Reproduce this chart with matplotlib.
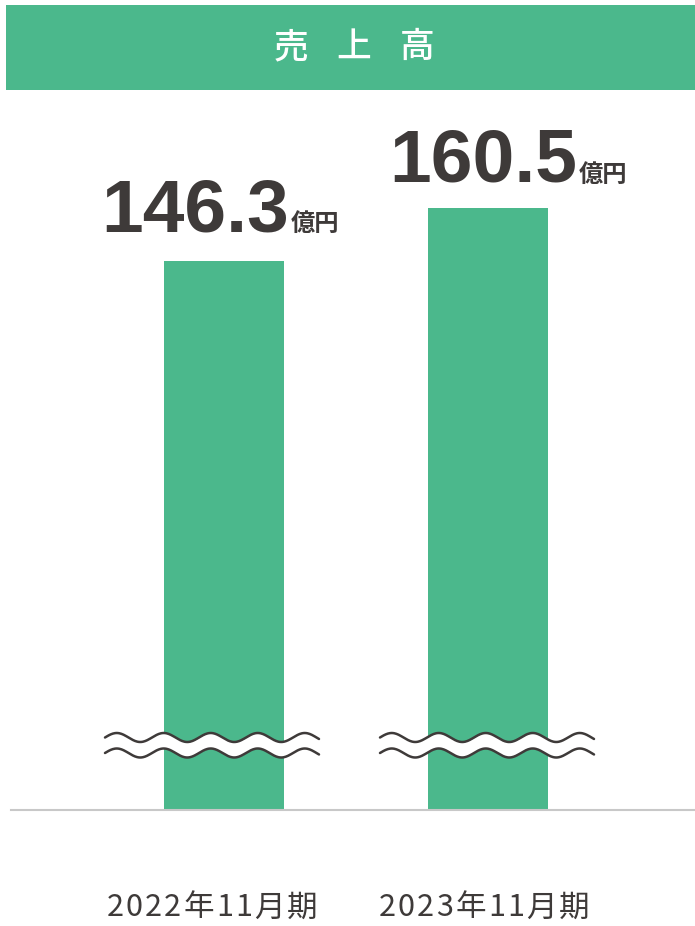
import numpy as np
import matplotlib
matplotlib.use("Agg")
import matplotlib.pyplot as plt
from matplotlib.patches import Rectangle

# data
periods = ["2022年11月期", "2023年11月期"]
sales = [146.3, 160.5]
value_labels = ["146.3", "160.5"]
unit = "億円"
title_chars = ["売", "上", "高"]

GREEN = "#4bb88c"
DARK = "#3e3a39"
CJK = ["Noto Sans CJK JP", "DejaVu Sans"]

W, H = 695, 926
fig = plt.figure(figsize=(W / 100, H / 100), dpi=100)
renderer = fig.canvas.get_renderer()

# bar area: baseline at y=810px, top at 90px, 3.752 px per unit
base_px, top_px = 810, 90
px_per_unit = 3.752
ax = fig.add_axes([0, (H - base_px) / H, 1, (base_px - top_px) / H])
ax.set_ylim(0, (base_px - top_px) / px_per_unit)
x0_px, step_px = 224, 264
ax.set_xlim(-x0_px / step_px, (W - x0_px) / step_px)
x = np.arange(len(sales))
ax.bar(x, sales, width=120 / step_px, color=GREEN, zorder=2)
ax.axhline(0, xmin=11 / W, xmax=1, color="#c8c8c8", lw=1.5, zorder=3, clip_on=False)
ax.axis("off")

# value labels: big number + small unit
label_dx = [65, 89]   # px from bar centre to join point
label_dy = [30, 26]   # px above bar top
for i, v in enumerate(sales):
    dx, dy = label_dx[i] * 0.72, label_dy[i] * 0.72
    ax.annotate(value_labels[i], (x[i], v), xytext=(dx, dy), textcoords="offset points",
                ha="right", va="baseline", fontsize=54, fontweight="bold",
                family=["Liberation Sans", "DejaVu Sans"], color=DARK)
    ax.annotate(unit, (x[i], v), xytext=(dx + 1, dy), textcoords="offset points",
                ha="left", va="baseline", fontsize=17.5, fontweight="bold",
                family=CJK, color=DARK)


def tracked_label(xi, text, centre_dx, dy, spacing, **kw):
    """draw text char by char with extra letter spacing (px), centred"""
    widths = []
    for ch in text:
        t = fig.text(0, 0, ch, **kw)
        widths.append(t.get_window_extent(renderer).width)
        t.remove()
    total = sum(widths) + spacing * (len(text) - 1)
    pos = centre_dx - total / 2
    for ch, w in zip(text, widths):
        ax.annotate(ch, (xi, 0), xytext=(pos * 0.72, dy * 0.72), textcoords="offset points",
                    ha="left", va="center", annotation_clip=False, **kw)
        pos += w + spacing


# period labels under the baseline
tick_dx = [-12, -4]
for i, p in enumerate(periods):
    tracked_label(x[i], p, tick_dx[i], -98, 2.2, fontsize=22, family=CJK, color=DARK)

# overlay in pixel coords for header and break marks
ov = fig.add_axes([0, 0, 1, 1], zorder=5)
ov.set_xlim(0, W)
ov.set_ylim(H, 0)
ov.axis("off")
ov.patch.set_alpha(0)

ov.add_patch(Rectangle((6, 5), W - 6, 85, color=GREEN, lw=0))
for cx, ch in zip([291.5, 354, 417.5], title_chars):
    ov.text(cx, 47, ch, ha="center", va="center", fontsize=25, family=CJK,
            fontweight="medium", color="white")

# wavy break symbols
for start in [105, 380]:
    xs = np.linspace(start, start + 214, 300)
    wave = -4.5 * np.sin(2 * np.pi * (xs - start) / 47)
    ov.fill_between(xs, 737.5 + wave, 753 + wave, color="white", lw=0)
    ov.plot(xs, 737.5 + wave, color=DARK, lw=1.8, solid_capstyle="round")
    ov.plot(xs, 753 + wave, color=DARK, lw=1.8, solid_capstyle="round")

fig.savefig("out.png", dpi=100)
